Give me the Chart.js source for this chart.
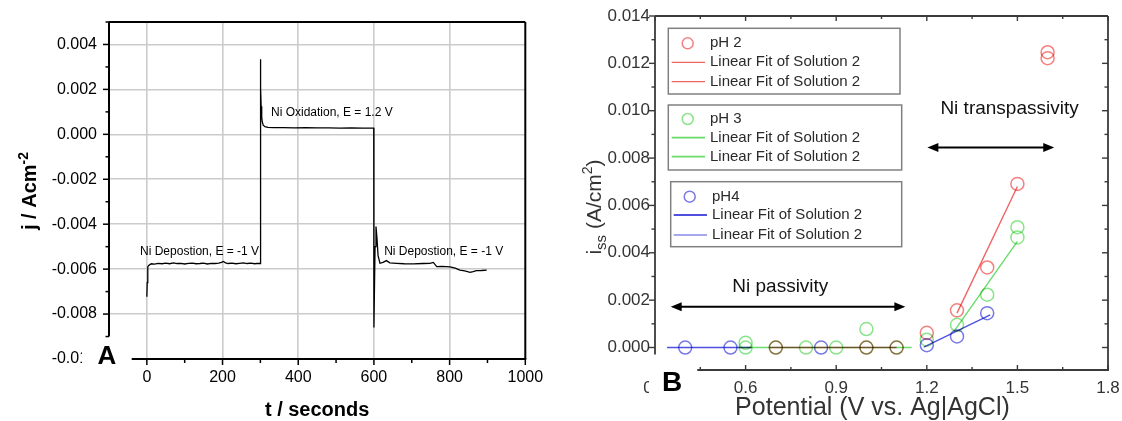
<!DOCTYPE html>
<html>
<head>
<meta charset="utf-8">
<script src="https://cdn.jsdelivr.net/npm/chart.js@4.4.0/dist/chart.umd.min.js"></script>
<style>
  html, body { margin: 0; padding: 0; background: #fff; }
  body { width: 1122px; height: 421px; position: relative; overflow: hidden; }
  canvas { position: absolute; top: 0; }
  #chartA { left: 0; }
  #chartB { left: 545px; }
</style>
</head>
<body>
<canvas id="chartA" width="545" height="421"></canvas>
<canvas id="chartB" width="577" height="421"></canvas>
<script>
const FONT = "'Liberation Sans', Arial, sans-serif";

// ---------- panel A : current transient ----------
const tSec = [
  0, 1, 2, 3, 5, 8, 12, 20, 30, 40, 50, 60, 70, 80, 90, 100, 110, 120, 130, 140,
  150, 160, 170, 180, 190, 197, 202, 208, 215, 225, 235, 245, 255, 265, 275, 285, 292, 299.5,
  300, 301, 302, 303.5, 305, 307.5, 312, 320, 335, 360, 390, 420, 450, 480, 510, 540, 570, 599.5,
  600, 601.5, 603, 605.5, 608, 611, 616, 624, 633, 642, 660, 680, 704, 730, 748, 757, 766,
  780, 801, 815, 827, 840, 854, 862, 871, 884, 898
];
const jCur = [
  -0.00723, -0.0066, -0.0062, -0.00589, -0.00584, -0.00580, -0.00576, -0.00578, -0.00574, -0.00576,
  -0.00573, -0.00576, -0.00572, -0.00575, -0.00574, -0.00577, -0.00574, -0.00573, -0.00576, -0.00575,
  -0.00573, -0.00577, -0.00574, -0.00575, -0.00573, -0.00570, -0.00566, -0.00572, -0.00575, -0.00573,
  -0.00576, -0.00574, -0.00572, -0.00575, -0.00573, -0.00576, -0.00574, -0.00575,
  0.00334, 0.00210, 0.00125, 0.00078, 0.00055, 0.00041, 0.00034, 0.00031, 0.00030, 0.00030,
  0.00029, 0.00030, 0.00029, 0.00029, 0.00028, 0.00029, 0.00028, 0.00028,
  -0.0086, -0.0068, -0.0050, -0.0041, -0.0046, -0.0054, -0.00574, -0.00570, -0.00562, -0.00572,
  -0.00574, -0.00576, -0.00577, -0.00575, -0.00574, -0.00570, -0.00589, -0.00588, -0.00590, -0.00596,
  -0.00604, -0.00608, -0.00614, -0.00611, -0.00607, -0.00606, -0.00604
];
const tTicksA = [0, 200, 400, 600, 800, 1000];
const jTicksA = [-0.010, -0.008, -0.006, -0.004, -0.002, 0.000, 0.002, 0.004];
const noteTextA = ['Ni Depostion, E = -1 V', 'Ni Oxidation, E = 1.2 V', 'Ni Depostion, E = -1 V'];
const noteTA = [-18, 328, 627];
const noteJA = [-0.00521, 0.00095, -0.00521];

// ---------- panel B : steady state current vs potential ----------
const potPH2 = [0.7, 1.0, 1.1, 1.2, 1.3, 1.4, 1.5, 1.6, 1.6];
const issPH2 = [0, 0, 0, 0.00062, 0.00157, 0.00338, 0.00691, 0.01222, 0.01247];
const potPH3 = [0.6, 0.6, 0.7, 0.8, 0.9, 1.0, 1.0, 1.1, 1.2, 1.3, 1.4, 1.5, 1.5];
const issPH3 = [0, 0.0002, 0, 0, 0, 0, 0.00078, 0, 0.00033, 0.00096, 0.00223, 0.00465, 0.00508];
const potPH4 = [0.4, 0.55, 0.85, 1.2, 1.3, 1.4];
const issPH4 = [0, 0, 0, 0.0001, 0.00047, 0.00145];
// linear fits (end points)
const fitPH2LowX = [0.68, 1.1],  fitPH2LowY = [0, 0];
const fitPH2HighX = [1.3, 1.5],  fitPH2HighY = [0.00145, 0.0068];
const fitPH3LowX = [0.58, 1.15], fitPH3LowY = [0, 0];
const fitPH3HighX = [1.29, 1.5], fitPH3HighY = [0.00068, 0.00448];
const fitPH4LowX = [0.34, 0.62], fitPH4LowY = [0, 0];
const fitPH4HighX = [1.19, 1.41], fitPH4HighY = [0.00002, 0.00138];
const potTicksB = [0.3, 0.6, 0.9, 1.2, 1.5, 1.8];
const issTicksB = [0, 0.002, 0.004, 0.006, 0.008, 0.010, 0.012, 0.014];
const legendNames = ['pH 2', 'pH 3', 'pH4'];
const fitName = 'Linear Fit of Solution 2';

const RED = 'rgb(244,128,128)', GREEN = 'rgb(138,228,138)', BLUE = 'rgb(120,120,230)';
const RED_L = 'rgb(240,100,100)', GREEN_L = 'rgb(105,220,105)', BLUE_L = 'rgb(80,80,222)';

const pts = (xs, ys) => xs.map((x, i) => ({ x: x, y: ys[i] }));

function rotatedText(ctx, x, y, parts) {
  ctx.save();
  ctx.translate(x, y);
  ctx.rotate(-Math.PI / 2);
  ctx.textBaseline = 'alphabetic';
  ctx.textAlign = 'left';
  let total = 0;
  parts.forEach(p => { ctx.font = p.font; total += ctx.measureText(p.text).width; });
  let cx = -total / 2;
  parts.forEach(p => {
    ctx.font = p.font;
    ctx.fillText(p.text, cx, p.shift);
    cx += ctx.measureText(p.text).width;
  });
  ctx.restore();
}

function line(ctx, x1, y1, x2, y2) {
  ctx.beginPath(); ctx.moveTo(x1, y1); ctx.lineTo(x2, y2); ctx.stroke();
}

function panelLabel(ctx, txt, cx, cy, size, box) {
  ctx.save();
  ctx.fillStyle = '#fff';
  ctx.fillRect(box[0], box[1], box[2], box[3]);
  ctx.fillStyle = '#000';
  ctx.font = 'bold ' + size + 'px ' + FONT;
  ctx.textAlign = 'center';
  ctx.textBaseline = 'middle';
  ctx.fillText(txt, cx, cy);
  ctx.restore();
}

// keep the plot box exactly where the layout padding puts it
const noEdgePad = s => { s.paddingLeft = 0; s.paddingRight = 0; s.paddingTop = 0; s.paddingBottom = 0; };

// ---- A decorations ----
const decoA = {
  id: 'decoA',
  afterDraw(chart) {
    const { ctx, chartArea: a, scales: { x, y } } = chart;
    ctx.save();
    ctx.strokeStyle = '#000';
    ctx.lineWidth = 2;
    line(ctx, a.left, a.top, a.right, a.top);
    line(ctx, a.right, a.top, a.right, a.bottom);
    line(ctx, a.left, a.top, a.left, y.getPixelForValue(-0.009));
    line(ctx, x.getPixelForValue(-40), a.bottom, a.right + 1, a.bottom);
    ctx.lineWidth = 1.5;
    for (let k = -9; k <= 5; k++) {
      const py = y.getPixelForValue(k / 1000);
      line(ctx, a.left, py, a.left - (k % 2 === 0 ? 6 : 3.5), py);
    }
    for (let t = 0; t <= 1000; t += 100) {
      const px = x.getPixelForValue(t);
      line(ctx, px, a.bottom, px, a.bottom + (t % 200 === 0 ? 6 : 4));
    }
    ctx.fillStyle = '#000';
    ctx.font = '12px ' + FONT;
    ctx.textBaseline = 'middle';
    ctx.textAlign = 'left';
    noteTextA.forEach((s, i) => ctx.fillText(s, x.getPixelForValue(noteTA[i]), y.getPixelForValue(noteJA[i])));
    rotatedText(ctx, 35.5, 191, [
      { text: 'j / Acm', font: 'bold 20px ' + FONT, shift: 0 },
      { text: '-2', font: 'bold 14px ' + FONT, shift: -8 }
    ]);
    ctx.restore();
    panelLabel(ctx, 'A', 107, 357, 26, [82, 343, 46, 30]);
  }
};

new Chart(document.getElementById('chartA'), {
  type: 'scatter',
  data: {
    datasets: [{
      data: pts(tSec, jCur),
      showLine: true,
      borderColor: '#000',
      borderWidth: 1.3,
      pointRadius: 0,
      tension: 0
    }]
  },
  options: {
    responsive: false,
    animation: false,
    devicePixelRatio: 1,
    layout: { padding: { left: 0, top: 22, right: 19.7, bottom: 0 } },
    plugins: { legend: { display: false }, tooltip: { enabled: false } },
    scales: {
      x: {
        type: 'linear', min: -100, max: 1000,
        afterBuildTicks: s => { s.ticks = tTicksA.map(v => ({ value: v })); },
        afterFit: s => { s.height = 62; noEdgePad(s); },
        border: { display: false },
        grid: { drawTicks: false, lineWidth: 1.6, color: c => (c.tick && c.tick.value < 999) ? '#cbcbcb' : 'rgba(0,0,0,0)' },
        ticks: { padding: 9, color: '#000', font: { family: FONT, size: 16 }, maxRotation: 0, callback: v => String(v) },
        title: { display: true, text: 't / seconds', color: '#000', font: { family: FONT, size: 20, weight: 'bold', lineHeight: 1 }, padding: { top: 0, bottom: 1 } }
      },
      y: {
        type: 'linear', min: -0.010, max: 0.005,
        afterBuildTicks: s => { s.ticks = jTicksA.map(v => ({ value: v })); },
        afterFit: s => { s.width = 109; noEdgePad(s); },
        border: { display: false },
        grid: { drawTicks: false, lineWidth: 1.6, color: c => (c.tick && c.tick.value > -0.0095) ? '#cbcbcb' : 'rgba(0,0,0,0)' },
        ticks: { padding: 12, color: '#000', font: { family: FONT, size: 16 }, callback: v => v.toFixed(3) }
      }
    }
  },
  plugins: [decoA]
});

// ---- B decorations ----
function arrow2(ctx, x1, x2, yy) {
  ctx.lineWidth = 2;
  line(ctx, x1 + 6, yy, x2 - 6, yy);
  [[x1, 1], [x2, -1]].forEach(([tip, d]) => {
    ctx.beginPath();
    ctx.moveTo(tip, yy);
    ctx.lineTo(tip + d * 11, yy - 4.5);
    ctx.lineTo(tip + d * 11, yy + 4.5);
    ctx.closePath();
    ctx.fill();
  });
}

const decoB = {
  id: 'decoB',
  beforeDatasetsDraw(chart) { chart.ctx.save(); chart.ctx.globalCompositeOperation = 'multiply'; },
  afterDatasetsDraw(chart) { chart.ctx.restore(); },
  afterDraw(chart) {
    const { ctx, chartArea: a, scales: { x, y } } = chart;
    ctx.save();
    ctx.strokeStyle = '#3a3a3a';
    ctx.lineWidth = 1.8;
    line(ctx, a.left, a.top, a.right, a.top);
    line(ctx, a.right, a.top, a.right, a.bottom);
    line(ctx, a.left, a.top, a.left, y.getPixelForValue(-0.0003));
    line(ctx, x.getPixelForValue(0.44), a.bottom, a.right + 1, a.bottom);
    ctx.lineWidth = 1.4;
    for (let k = 0; k <= 14; k++) {
      const py = y.getPixelForValue(k / 1000);
      const len = k % 2 === 0 ? 6 : 3.5;
      line(ctx, a.left, py, a.left - len, py);
      line(ctx, a.right, py, a.right - len, py);
    }
    for (let k = 0; k <= 10; k++) {
      const px = x.getPixelForValue(0.3 + k * 0.15);
      const len = k % 2 === 0 ? 5 : 3;
      line(ctx, px, a.top, px, a.top + len);
      if (k > 0) line(ctx, px, a.bottom, px, a.bottom - len);
    }
    // legend boxes
    const boxes = [[123.3, 28.3, 231.7, 65.7], [123.3, 105, 233.4, 65], [125.7, 181.7, 231, 65]];
    const rows = [[43.3, 62.3, 81.7], [119, 137.7, 156.7], [196.7, 215, 235]];
    const mk = [RED, GREEN, BLUE], ln = [RED_L, GREEN_L, BLUE_L];
    const lw = [[1.2, 1.2], [1.8, 1.8], [2.2, 1.1]];
    ctx.font = '15px ' + FONT;
    ctx.textBaseline = 'middle';
    ctx.textAlign = 'left';
    boxes.forEach((b, i) => {
      const off = i === 2 ? 2 : 0;
      ctx.strokeStyle = '#808080';
      ctx.lineWidth = 1.5;
      ctx.strokeRect(b[0], b[1], b[2], b[3]);
      ctx.strokeStyle = mk[i];
      ctx.lineWidth = 1.5;
      ctx.beginPath();
      ctx.arc(142.7 + off, rows[i][0], 5.5, 0, Math.PI * 2);
      ctx.stroke();
      ctx.fillStyle = '#2a2a2a';
      ctx.fillText(legendNames[i], 165 + off, rows[i][0]);
      [1, 2].forEach(r => {
        ctx.strokeStyle = ln[i];
        ctx.lineWidth = lw[i][r - 1];
        line(ctx, 126.7 + off, rows[i][r], 160 + off, rows[i][r]);
        ctx.fillText(fitName, 165 + off, rows[i][r]);
      });
    });
    // region annotations
    ctx.fillStyle = '#000';
    ctx.strokeStyle = '#000';
    arrow2(ctx, x.getPixelForValue(0.352), x.getPixelForValue(1.129), y.getPixelForValue(0.00172));
    arrow2(ctx, x.getPixelForValue(1.202), x.getPixelForValue(1.622), y.getPixelForValue(0.00845));
    ctx.font = '19px ' + FONT;
    ctx.textAlign = 'center';
    ctx.fillStyle = '#111';
    ctx.fillText('Ni passivity', x.getPixelForValue(0.715), y.getPixelForValue(0.00257));
    ctx.fillText('Ni transpassivity', x.getPixelForValue(1.474), y.getPixelForValue(0.0101));
    // axis titles
    ctx.fillStyle = '#333';
    ctx.font = '25px ' + FONT;
    ctx.fillText('Potential (V vs. Ag|AgCl)', x.getPixelForValue(1.02), 408.5);
    rotatedText(ctx, 56, 207, [
      { text: 'i', font: '21px ' + FONT, shift: 0 },
      { text: 'ss', font: '15px ' + FONT, shift: 5 },
      { text: ' (A/cm', font: '21px ' + FONT, shift: 0 },
      { text: '2', font: '14px ' + FONT, shift: -9 },
      { text: ')', font: '21px ' + FONT, shift: 0 }
    ]);
    ctx.restore();
    panelLabel(ctx, 'B', 127, 383, 28, [104, 370, 46, 28]);
  }
};

const markerSet = (xs, ys, col) => ({
  data: pts(xs, ys), showLine: false, pointStyle: 'circle', pointRadius: 6.5,
  pointBorderWidth: 1.5, pointBorderColor: col, pointBackgroundColor: 'rgba(0,0,0,0)'
});
const fitSet = (xs, ys, col) => ({
  data: pts(xs, ys), showLine: true, borderColor: col, borderWidth: 1.4, pointRadius: 0
});

new Chart(document.getElementById('chartB'), {
  type: 'scatter',
  data: {
    datasets: [
      fitSet(fitPH4LowX, fitPH4LowY, BLUE_L),
      fitSet(fitPH4HighX, fitPH4HighY, BLUE_L),
      fitSet(fitPH3LowX, fitPH3LowY, GREEN_L),
      fitSet(fitPH3HighX, fitPH3HighY, GREEN_L),
      fitSet(fitPH2LowX, fitPH2LowY, RED_L),
      fitSet(fitPH2HighX, fitPH2HighY, RED_L),
      markerSet(potPH4, issPH4, BLUE),
      markerSet(potPH3, issPH3, GREEN),
      markerSet(potPH2, issPH2, RED)
    ]
  },
  options: {
    responsive: false,
    animation: false,
    devicePixelRatio: 1,
    layout: { padding: { left: 0, top: 16, right: 14, bottom: 0 } },
    plugins: { legend: { display: false }, tooltip: { enabled: false } },
    scales: {
      x: {
        type: 'linear', min: 0.3, max: 1.8,
        afterBuildTicks: s => { s.ticks = potTicksB.map(v => ({ value: v })); },
        afterFit: s => { s.height = 51; noEdgePad(s); },
        border: { display: false },
        grid: { display: false, drawTicks: false },
        ticks: { padding: 8, color: '#333', font: { family: FONT, size: 17 }, maxRotation: 0, callback: v => v.toFixed(1) },
        title: { display: false }
      },
      y: {
        type: 'linear', min: -0.00095, max: 0.014,
        afterBuildTicks: s => { s.ticks = issTicksB.map(v => ({ value: v })); },
        afterFit: s => { s.width = 110; noEdgePad(s); },
        border: { display: false },
        grid: { display: false, drawTicks: false },
        ticks: { padding: 5, color: '#333', font: { family: FONT, size: 17 }, callback: v => v.toFixed(3) }
      }
    }
  },
  plugins: [decoB]
});
</script>
</body>
</html>
